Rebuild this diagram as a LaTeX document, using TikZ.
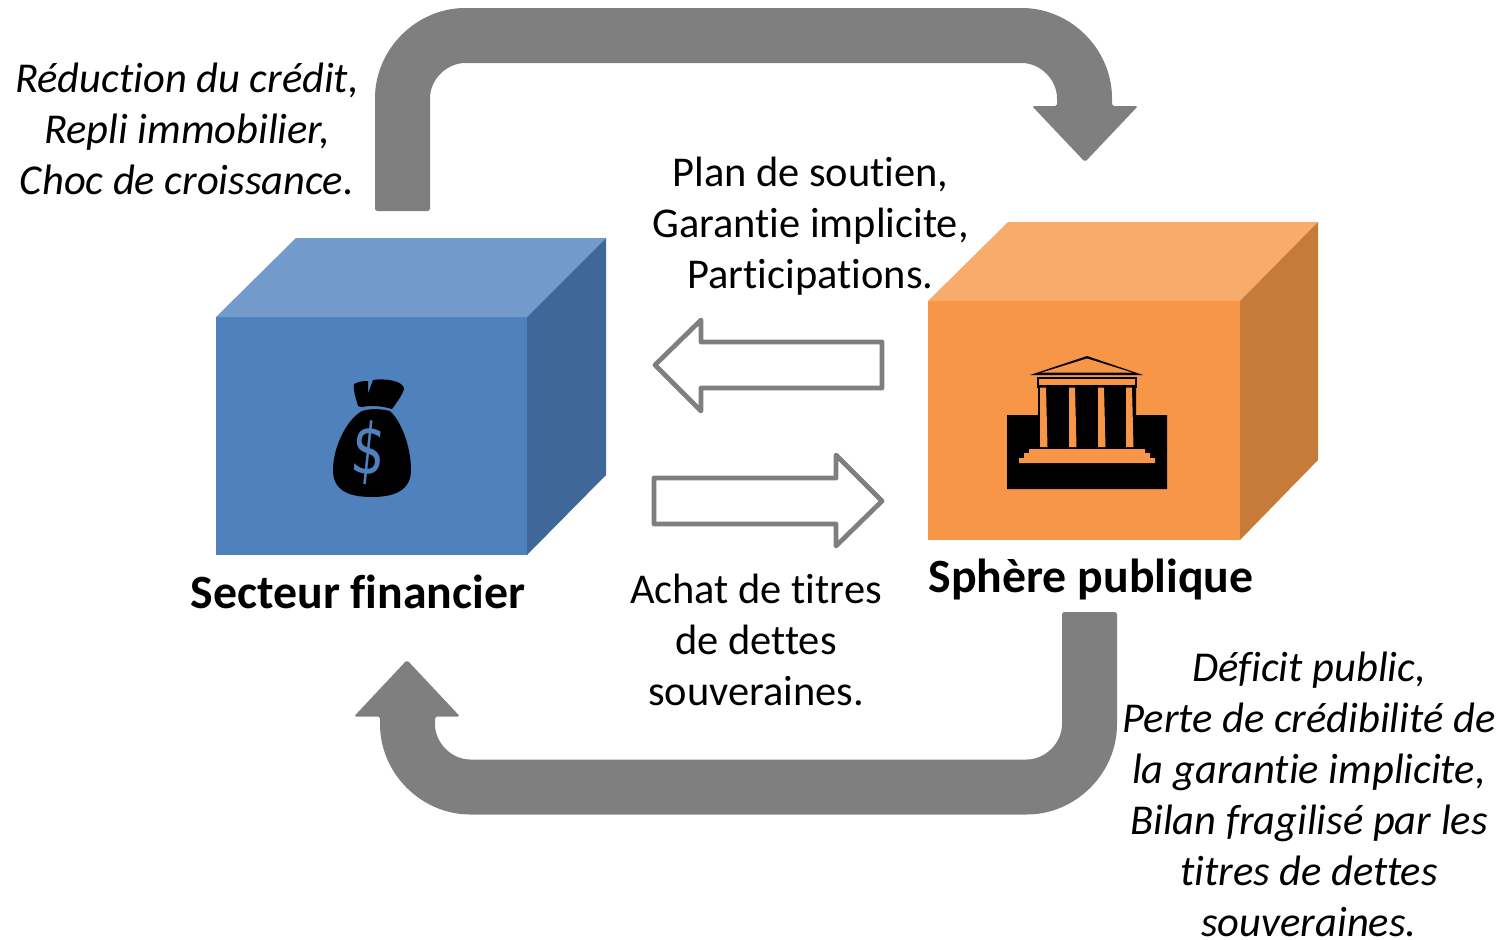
\documentclass[tikz,border=0pt]{standalone}
\usepackage{fontspec}
\usepackage{xcolor}
\setmainfont[RawFeature=-liga]{Carlito}
\newfontfamily\dollarfont{DejaVu Sans}
\definecolor{bluefront}{HTML}{4F81BD}
\definecolor{bluetop}{HTML}{729ACA}
\definecolor{blueside}{HTML}{3F6797}
\definecolor{orangefront}{HTML}{F79646}
\definecolor{orangetop}{HTML}{F9AB6B}
\definecolor{orangeside}{HTML}{C67B38}
\definecolor{arrowgray}{HTML}{7F7F7F}
\tikzset{
  plaintext/.style={align=center,font=\fontsize{24.15}{29}\selectfont},
  slanttext/.style={plaintext,font=\fontsize{24.2}{29}\selectfont\itshape},
  cubelabel/.style={font=\fontsize{27.2}{30}\selectfont\bfseries},
  bigarrow/.style={fill=arrowgray,draw=none},
  thinarrow/.style={draw=arrowgray,line width=2.7pt,line join=round,fill=white},
}
\begin{document}
\begin{tikzpicture}[x=0.02cm,y=-0.02cm]
\useasboundingbox (0,0) rectangle (1499,940);
% blue cube
\fill[bluefront] (216,317)--(527,317)--(527,555)--(216,555)--cycle;
\fill[bluetop] (216,317)--(296,238)--(606,238)--(527,317)--cycle;
\fill[blueside] (527,317)--(606,238)--(606,475)--(527,555)--cycle;
% orange cube
\fill[orangefront] (928,301)--(1240,301)--(1240,540)--(928,540)--cycle;
\fill[orangetop] (928,301)--(1008,222)--(1318,222)--(1240,301)--cycle;
\fill[orangeside] (1240,301)--(1318,222)--(1318,460)--(1240,540)--cycle;
% big arrows
\fill[bigarrow,rounded corners=1pt] (375,211)--(375,100) arc[start angle=180,end angle=270,radius=92]
  --(1020,8) arc[start angle=270,end angle=360,radius=92]
  --(1112,106)--(1138,106)--(1085,162)--(1032,106)--(1057,106)--(1057,100)
  arc[start angle=0,end angle=-90,radius=37]
  --(467,63) arc[start angle=-90,end angle=-180,radius=37]
  --(430,211)--cycle;
\fill[bigarrow,rounded corners=1pt] (1117,612)--(1117,722.5) arc[start angle=0,end angle=90,radius=92]
  --(472,814.5) arc[start angle=90,end angle=180,radius=92]
  --(380,716.5)--(354,716.5)--(407,660)--(460,716.5)--(435,716.5)--(435,722.5)
  arc[start angle=180,end angle=90,radius=37]
  --(1025,759.5) arc[start angle=90,end angle=0,radius=37]
  --(1062,612)--cycle;
% thin arrows
\draw[thinarrow] (882,342)--(701,342)--(701,320)--(655,365)--(701,411)--(701,388)--(882,388)--cycle;
\draw[thinarrow] (654,478)--(836,478)--(836,455)--(882,501)--(836,546)--(836,524)--(654,524)--cycle;
% money bag
\fill[black] (354,384) .. controls (360,381) and (364,381) .. (368,381)--(368,394)--(373,380)
  .. controls (386,378) and (402,381) .. (404,388)
  .. controls (404,392) and (398,401) .. (392,409)
  .. controls (382,406) and (372,405) .. (362,407)--(358,406)
  .. controls (356,398) and (353,392) .. (354,384)--cycle;
\fill[black] (362,411) .. controls (372,408) and (381,409) .. (390,411)
  .. controls (402,422) and (411,448) .. (411,470)
  .. controls (411,490) and (395,497) .. (372,497)
  .. controls (348,497) and (333,490) .. (333,470)
  .. controls (333,448) and (346,420) .. (362,411)--cycle;
\node[text=bluefront,rotate=-6,xscale=0.92,yscale=1.22,font=\fontsize{33}{33}\selectfont\dollarfont] (dollar) at (369,453) {\$};
% temple
\fill[black] (1007,415)--(1038,415)--(1038,387)--(1136,387)--(1136,415)--(1167,415)--(1167,489)--(1007,489)--cycle;
\fill[black] (1087,356)--(1143,375)--(1030,375)--cycle;
\fill[orangefront] (1087,358.5)--(1132,372.5)--(1042,372.5)--cycle;
\draw[black,line width=1.2pt,fill=orangefront] (1038,378)--(1136,378)--(1136,386.5)--(1038,386.5)--cycle;
\foreach \colx in {1040,1069,1098,1126}
  \fill[orangefront] (\colx,387.5)--(\colx+6,387.5)--(\colx+7.5,447)--(\colx,447)--cycle;
\fill[orangefront] (1029,449)--(1145,449)--(1145,453)--(1150,453)--(1150,458)--(1155,458)--(1155,463)--(1019,463)--(1019,458)--(1024,458)--(1024,453)--(1029,453)--cycle;
% texts
\node[slanttext] (causesleft) at (187,129) {Réduction du crédit,\\Repli immobilier,\\Choc de croissance.};
\node[plaintext] (soutien) at (810.5,226) {Plan de soutien,\\Garantie implicite,\\Participations.};
\node[plaintext] (achat) at (756,640) {Achat de titres\\de dettes\\souveraines.};
\node[slanttext] (causesright) at (1309,794.5) {Déficit public,\\Perte de crédibilité de\\la garantie implicite,\\Bilan fragilisé par les\\titres de dettes\\souveraines.};
\node[cubelabel] (secteur) at (358,592) {Secteur financier};
\node[cubelabel] (sphere) at (1091,579) {Sphère publique};
\end{tikzpicture}
\end{document}
